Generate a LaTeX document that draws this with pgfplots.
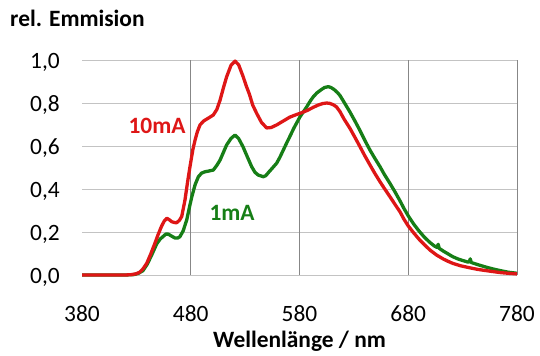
\documentclass[border=0pt]{standalone}
\usepackage{fontspec}
\setmainfont{Carlito}
\usepackage{pgfplots}
\pgfplotsset{compat=1.18}
\definecolor{cred}{RGB}{222,22,22}
\definecolor{cgreen}{RGB}{22,126,22}
\newcommand{\fs}{\fontsize{23.5}{28}\selectfont}
\begin{document}
\begin{tikzpicture}
\useasboundingbox (0,0) rectangle (540bp,356bp);
\begin{axis}[
  at={(82bp,81bp)}, anchor=south west,
  scale only axis, width=435bp, height=215bp,
  xmin=380, xmax=780, ymin=0, ymax=1,
  xtick={380,480,580,680,780},
  ytick={0,0.2,0.4,0.6,0.8,1.0},
  major tick length=0pt,
  axis line style={draw=none},
  ymajorgrids=true,
  y grid style={draw={rgb,255:red,195;green,195;blue,195}, line width=0.9bp},
  extra x ticks={480,580,680,780},
  extra x tick labels={},
  extra x tick style={grid=major, x grid style={draw={rgb,255:red,135;green,135;blue,135}, line width=0.9bp}},
  /pgf/number format/assume math mode=true,
  tick label style={font=\fs},
  yticklabel style={/pgf/number format/.cd, use comma, fixed, fixed zerofill, precision=1, /tikz/.cd, anchor=base east, inner sep=0pt, xshift=-22bp, yshift=-8.5bp},
  xticklabel style={anchor=base, inner sep=0pt, yshift=-46bp},
  xlabel={Wellenlänge / nm},
  xlabel style={font=\bfseries\fs, at={(rel axis cs:0.5,0)}, anchor=base, inner sep=0pt, yshift=-72bp},
  ylabel={rel. Emmision},
  ylabel style={font=\bfseries\fs, rotate=-90, at={(rel axis cs:0,1)}, anchor=base west, inner sep=0pt, xshift=-72bp, yshift=33bp},
  clip=false,
]
\addplot[cgreen, line width=3.3bp, line join=round] coordinates {
(380,0) (420,0) (428,0.002) (432,0.008) (436,0.02) (440,0.05) (444,0.092) (448.7,0.145)
(452,0.168) (454.8,0.18) (457,0.19) (459.4,0.19) (462,0.182) (465.5,0.172) (468,0.172) (470,0.178)
(473,0.205) (476.3,0.256) (479,0.32) (481,0.364) (484,0.42) (487,0.457) (490,0.474) (493,0.48)
(497,0.484) (500.7,0.488) (504,0.51) (507,0.535) (510,0.57) (513,0.605) (517,0.635) (520.7,0.651)
(524,0.635) (528,0.597) (532,0.55) (536,0.504) (539,0.478) (542,0.465) (546.7,0.457) (549,0.462)
(552,0.48) (555,0.497) (559,0.52) (562,0.548) (565,0.58) (568,0.612) (571,0.643) (575,0.685)
(580.5,0.736) (584,0.762) (587,0.785) (590,0.81) (592.7,0.829) (596,0.847) (600,0.862) (603,0.872)
(606.5,0.876) (609,0.872) (612,0.862) (615,0.848) (617.2,0.835) (620,0.812) (622,0.795) (626.4,0.758)
(631,0.716) (635.6,0.672) (640,0.627) (644.8,0.581) (649,0.545) (654,0.504) (658,0.468) (663.2,0.426)
(668,0.385) (672.4,0.345) (676,0.31) (680,0.275) (685,0.237) (690,0.204) (695,0.175) (700,0.151)
(704,0.135) (706.5,0.128) (707.5,0.143) (708.5,0.124) (712,0.112) (716,0.1) (721,0.085) (726,0.074)
(731,0.066) (735,0.06) (736,0.06) (737,0.075) (738,0.058) (744,0.048) (752,0.036) (758,0.028)
(765,0.02) (772,0.013) (780,0.008)
};
\addplot[cred, line width=3.3bp, line join=round] coordinates {
(380,0) (420,0) (426,0.002) (430,0.006) (433,0.013) (436,0.028) (439.5,0.054) (443,0.095)
(447,0.147) (450,0.188) (453,0.225) (455.5,0.25) (458,0.264) (460,0.258) (462.5,0.248) (465,0.244)
(467,0.243) (469.5,0.254) (471.7,0.272) (474.7,0.349) (477,0.43) (479.3,0.504) (482,0.585) (484,0.628)
(486,0.665) (488.5,0.698) (492,0.717) (496,0.729) (500.7,0.744) (504,0.77) (507,0.814) (510,0.87)
(513,0.922) (517,0.975) (520.7,0.995) (524,0.978) (528,0.925) (531,0.88) (534,0.84) (537,0.79)
(540.6,0.752) (545,0.71) (549.8,0.684) (554,0.686) (559,0.698) (565,0.716) (571,0.734) (576,0.744)
(580.5,0.752) (587,0.765) (592.7,0.78) (597,0.79) (601,0.797) (605,0.8) (608,0.798) (611,0.792)
(614,0.782) (617.2,0.76) (621,0.725) (626.4,0.682) (631,0.64) (635.6,0.597) (640,0.555) (644.8,0.512)
(649,0.475) (654,0.434) (658,0.403) (663.2,0.364) (668,0.327) (672.4,0.294) (676,0.26) (680,0.228)
(685,0.196) (690,0.166) (695,0.14) (700,0.116) (706,0.093) (712,0.075) (716,0.065) (721,0.054)
(728,0.043) (737,0.033) (744,0.026) (752,0.02) (765,0.011) (772,0.008) (780,0.005)
};
\node[text=cred, font=\bfseries\fs] at (axis cs:449,0.693) {10mA};
\node[text=cgreen, font=\bfseries\fs] at (axis cs:518,0.288) {1mA};
\end{axis}
\end{tikzpicture}
\end{document}
